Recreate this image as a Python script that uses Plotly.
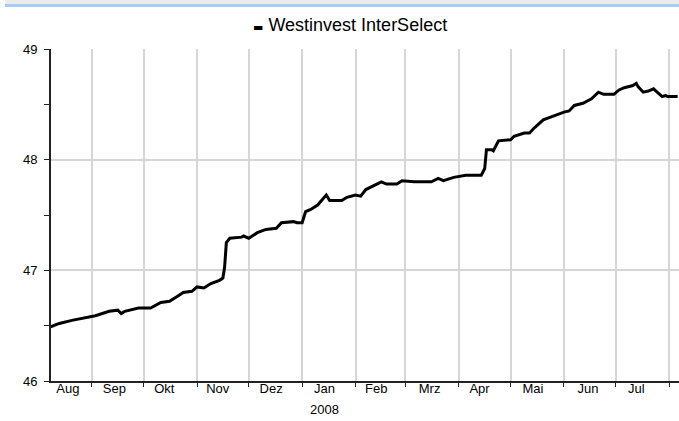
import plotly.graph_objects as go

# ---- data ----
dates = [
    "2007-08-08", "2007-08-13", "2007-08-21", "2007-08-31", "2007-09-03", "2007-09-11",
    "2007-09-16", "2007-09-18", "2007-09-20", "2007-09-28", "2007-10-05", "2007-10-11",
    "2007-10-16", "2007-10-20", "2007-10-24", "2007-10-29", "2007-11-01", "2007-11-05",
    "2007-11-09", "2007-11-14", "2007-11-16", "2007-11-17", "2007-11-18", "2007-11-20",
    "2007-11-27", "2007-11-28", "2007-12-01", "2007-12-06", "2007-12-11", "2007-12-17",
    "2007-12-20", "2007-12-27", "2007-12-29", "2008-01-01", "2008-01-03", "2008-01-06",
    "2008-01-10", "2008-01-15", "2008-01-17", "2008-01-24", "2008-01-27", "2008-02-01",
    "2008-02-04", "2008-02-07", "2008-02-11", "2008-02-16", "2008-02-19", "2008-02-25",
    "2008-02-28", "2008-03-06", "2008-03-16", "2008-03-20", "2008-03-23", "2008-03-29",
    "2008-04-05", "2008-04-14", "2008-04-16", "2008-04-17", "2008-04-20", "2008-04-21",
    "2008-04-24", "2008-05-01", "2008-05-03", "2008-05-09", "2008-05-12", "2008-05-15",
    "2008-05-20", "2008-05-25", "2008-05-29", "2008-06-01", "2008-06-04", "2008-06-07",
    "2008-06-12", "2008-06-17", "2008-06-21", "2008-06-24", "2008-06-30", "2008-07-03",
    "2008-07-06", "2008-07-11", "2008-07-13", "2008-07-14", "2008-07-17", "2008-07-20",
    "2008-07-23", "2008-07-26", "2008-07-28", "2008-07-30", "2008-07-31", "2008-08-06",
]
prices = [
    46.49, 46.52, 46.55, 46.58, 46.59, 46.63,
    46.64, 46.61, 46.63, 46.66, 46.66, 46.71,
    46.72, 46.76, 46.80, 46.81, 46.85, 46.84,
    46.88, 46.91, 46.93, 47.03, 47.25, 47.29,
    47.30, 47.31, 47.29, 47.34, 47.37, 47.38,
    47.43, 47.44, 47.43, 47.43, 47.53, 47.55,
    47.59, 47.68, 47.63, 47.63, 47.66, 47.68,
    47.67, 47.73, 47.76, 47.80, 47.78, 47.78,
    47.81, 47.80, 47.80, 47.83, 47.81, 47.84,
    47.86, 47.86, 47.92, 48.09, 48.09, 48.08,
    48.17, 48.18, 48.21, 48.24, 48.24, 48.29,
    48.36, 48.39, 48.41, 48.43, 48.44, 48.49,
    48.51, 48.55, 48.61, 48.59, 48.59, 48.63,
    48.65, 48.67, 48.69, 48.66, 48.61, 48.62,
    48.64, 48.60, 48.57, 48.58, 48.57, 48.57,
]
series_name = "Westinvest InterSelect"

month_labels = ["Aug", "Sep", "Okt", "Nov", "Dez", "Jan", "Feb", "Mrz", "Apr", "Mai", "Jun", "Jul"]
month_label_pos = ["2007-08-18", "2007-09-14", "2007-10-13", "2007-11-13", "2007-12-14",
                   "2008-01-14", "2008-02-13", "2008-03-15", "2008-04-13", "2008-05-14",
                   "2008-06-15", "2008-07-13"]
month_starts = ["2007-09-01", "2007-10-01", "2007-11-01", "2007-12-01", "2008-01-01",
                "2008-02-01", "2008-03-01", "2008-04-01", "2008-05-01", "2008-06-01",
                "2008-07-01", "2008-08-01"]
year_label = "2008"
year_label_pos = "2008-01-14"
y_ticks = [46, 47, 48, 49]

FONT = "Liberation Sans"
W, H = 679, 421
L, R, T, B = 51, 0, 49, 40
PW, PH = W - L - R, H - T - B


def px_x(px):
    return (px - L) / PW


def px_y(py):
    return (H - B - py) / PH


fig = go.Figure()
fig.add_trace(go.Scatter(
    x=dates, y=prices, mode="lines", name=series_name,
    line=dict(color="black", width=3), showlegend=False,
))

fig.update_layout(
    width=W, height=H,
    margin=dict(l=L, r=R, t=T, b=B),
    paper_bgcolor="white", plot_bgcolor="white",
    font=dict(family=FONT, size=13, color="black"),
    xaxis=dict(
        type="date",
        range=["2007-08-08 05:00", "2008-08-06 19:00"],
        tickmode="array", tickvals=month_label_pos, ticktext=month_labels,
        ticks="", showgrid=False, zeroline=False,
        showline=True, linecolor="#222222", linewidth=2,
        ticklabelstandoff=-6,
        tickfont=dict(family=FONT, size=13, color="black"),
        minor=dict(tickmode="array", tickvals=month_starts, ticks="outside",
                   ticklen=4, tickwidth=1, tickcolor="#222222",
                   showgrid=True, gridcolor="#d6d6d6", gridwidth=2),
    ),
    yaxis=dict(
        range=[46, 49],
        tickmode="array", tickvals=y_ticks, ticktext=[str(v) for v in y_ticks],
        ticks="outside", ticklen=5, tickwidth=1, tickcolor="#222222",
        showgrid=True, gridcolor="#d6d6d6", gridwidth=2, zeroline=False,
        showline=True, linecolor="#222222", linewidth=2,
        ticklabelstandoff=4,
        tickfont=dict(family=FONT, size=13, color="black"),
        minor=dict(dtick=0.5, tick0=46, ticks="outside", ticklen=5, tickwidth=1,
                   tickcolor="#222222", showgrid=False),
    ),
    annotations=[
        dict(xref="paper", yref="paper", x=px_x(350), y=px_y(25),
             text="<span style='font-size:11px;font-family:DejaVu Sans'>▬</span> " + series_name,
             showarrow=False, xanchor="center", yanchor="middle",
             font=dict(family=FONT, size=18, color="black")),
        dict(xref="x", yref="paper", x=year_label_pos, y=px_y(409),
             text=year_label, showarrow=False, xanchor="center", yanchor="middle",
             font=dict(family=FONT, size=13, color="black")),
    ],
    shapes=[
        dict(type="rect", xref="paper", yref="paper",
             x0=px_x(5), x1=px_x(W), y0=px_y(4), y1=px_y(0),
             fillcolor="#ececec", line=dict(width=0), layer="above"),
        dict(type="rect", xref="paper", yref="paper",
             x0=px_x(5), x1=px_x(W), y0=px_y(7), y1=px_y(4),
             fillcolor="#a3cdf7", line=dict(width=0), layer="above"),
    ],
)

fig.write_html("out.html", config={"displayModeBar": False},
               post_script="document.body.style.margin='0px';")
